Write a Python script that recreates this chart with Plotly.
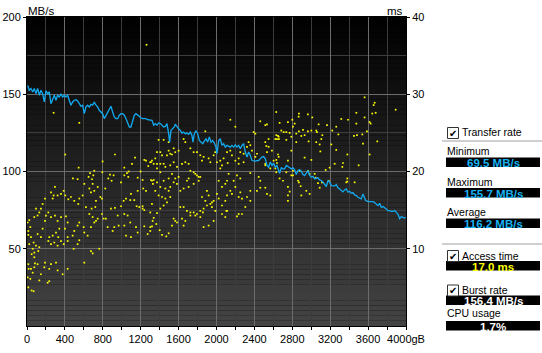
import plotly.graph_objects as go

# ---------------- data ----------------
tr_gb = [7,24,42,60,77,95,112,130,147,165,183,200,218,235,253,271,288,306,323,341,359,376,394,411,429,446,464,482,499,517,534,552,570,587,605,622,640,658,675,693,710,728,746,763,781,798,816,833,851,869,886,904,921,939,957,974,992,1009,1027,1045,1062,1080,1097,1115,1132,1150,1168,1185,1203,1220,1238,1256,1273,1291,1308,
         1319,1337,1354,1372,1389,1407,1425,1442,1460,1477,1495,1505,1520,1537,1555,1565,1583,1600,1618,1636,1653,1671,1688,1706,1724,1741,1752,1766,1783,1801,1819,1836,1854,1871,1889,1907,1924,1942,1959,1977,1994,2005,2023,2040,2058,2075,2093,2111,2128,2146,2163,2181,2199,2216,2234,2251,2269,2286,2304,2322,2339,2357,2374,2392,2410,2427,2445,2462,2480,2498,2515,2533,2550,2568,2586,2603,2621,2638,
         2649,2666,2684,2702,2719,2737,2754,2772,2790,2807,2825,2842,2860,2877,2895,2913,2930,2948,2965,2983,3001,3018,3036,3053,3071,3089,3106,3124,3141,3159,3177,3194,3212,3229,3247,3264,3282,3300,3317,3335,3352,3370,3388,3405,3423,3440,3458,3476,3493,3511,3528,3546,3564,3574,3599,3616,3634,3651,3669,3687,3704,3722,3739,3757,3775,3792,3810,3827,3845,3863,3880,3898,3915,3933,3951,3968,3986,3996]
tr_mbs = [155.7,152.6,153.7,151.5,153.7,150.4,153.7,149.4,152.6,150.4,145.0,152.2,150.4,151.5,143.9,147.2,149.4,146.1,149.4,148.3,150.0,148.3,149.4,148.3,149.4,146.1,142.9,145.0,146.1,146.5,145.7,143.9,142.2,142.9,137.4,141.8,142.9,141.8,143.5,142.9,145.0,142.9,141.8,139.6,138.5,137.4,134.2,136.4,138.5,140.7,142.2,138.5,135.3,134.2,134.2,136.4,137.4,137.4,136.4,134.2,132.0,128.8,128.8,132.0,136.4,137.4,136.4,135.3,134.8,134.2,134.2,134.2,133.5,133.5,133.1,
          133.1,129.9,131.0,129.9,131.4,131.0,129.9,128.8,129.2,131.0,124.5,119.0,126.6,127.7,128.8,130.6,128.8,127.7,126.6,124.9,125.5,124.5,124.9,124.0,125.5,123.4,119.0,124.5,126.2,124.5,120.1,119.0,118.0,119.7,121.2,119.0,122.3,119.0,120.1,118.4,115.8,111.5,120.1,121.2,116.9,118.0,115.8,116.9,116.2,115.8,116.9,115.8,117.3,115.8,116.9,114.7,116.9,118.0,112.6,109.3,112.6,110.4,107.1,106.7,106.7,107.1,107.1,108.2,109.3,109.7,108.2,103.9,102.8,106.1,103.9,105.4,102.8,103.9,
          101.7,98.9,102.4,101.7,101.7,103.9,103.2,102.4,101.7,102.4,101.1,98.1,100.6,101.1,100.2,98.1,97.4,98.9,100.6,97.4,96.3,96.8,95.2,95.7,95.9,94.6,94.2,93.1,92.0,90.3,94.2,93.1,90.9,90.9,90.7,91.6,89.4,88.7,87.7,86.8,88.1,88.7,86.6,87.2,85.9,86.4,84.8,84.4,83.3,82.9,82.3,85.5,83.3,81.2,80.5,80.5,80.5,80.5,79.9,79.0,77.9,79.4,76.8,77.3,76.8,75.8,74.7,74.7,74.2,74.2,74.7,73.6,72.5,69.5,70.8,70.3,69.9,70.3]

at_gb = [281,552,404,928,798,545,710,665,700,1027,1140,1108,1238,1256,1308,1280,1199,1073,1055,876,914,795,650,686,485,534,693,605,658,710,746,826,858,893,992,1027,1069,1168,1220,1308,1329,1227,1256,1168,1097,1045,1020,1090,1132,1220,1238,1157,992,928,886,833,791,774,728,675,682,721,658,693,728,622,587,552,541,499,464,436,404,387,359,323,281,271,253,295,190,165,147,95,130,112,77,24,7,35,14,14,42,24,70,95,60,77,49,119,130,147,112,165,190,200,225,253,295,323,359,411,429,401,341,306,271,235,225,253,288,323,359,387,330,429,429,482,499,552,534,598,605,640,675,710,746,791,809,851,904,921,967,957,1027,1062,1090,1027,1045,1097,1150,1168,1238,1301,1326,1273,1185,1220,534,552,492,675,693,763,605,429,376,323,306,253,235,190,183,147,130,112,84,77,42,17,7,35,60,14,49,70,218,235,14,77,
         2146,2199,1882,1653,1671,1389,1442,1495,1724,1600,1548,1565,1512,1530,1477,1495,1794,1829,1864,1917,1970,1987,2005,2040,2075,2111,2146,2163,2199,2234,2251,2286,2322,2339,2357,2374,2410,2427,2286,2234,2118,2058,2040,1935,1847,1759,1407,1372,1301,1319,1354,1425,1372,1337,1407,1460,1512,1548,1583,1636,1671,1706,1724,1759,1776,1829,1812,1759,1706,1653,1618,1583,1548,1512,1495,1460,1407,1372,1337,1319,1354,1389,1425,1460,1512,1477,1442,1407,1372,1319,1301,1337,1365,1319,1301,1400,1425,1470,1495,1548,1565,1530,1583,1636,1671,1653,1724,1759,1794,1829,1857,1864,1899,1935,1952,1882,1847,1899,1917,1952,1970,2005,2023,2058,2093,2111,2146,2163,2199,2251,2234,2269,2322,2304,2357,2357,2427,2462,2515,2533,2568,2445,2357,2462,2568,2621,2638,2603,2656,2515,2533,2550,2585,2621,2656,2638,2515,2526,2550,2533,2515,2462,2392,2410,2515,2104,2093,2058,1987,1970,1917,1864,1829,1776,1724,1688,1653,1618,2111,2216,2234,2269,2181,2111,2093,2058,2216,2251,2128,2023,1812,1794,1688,1706,1600,1565,1530,1495,1442,1407,1372,1442,
         3563,3669,3658,3891,3476,3644,3680,3563,3616,3627,3476,3317,3388,3264,3166,3078,3011,2965,2870,2867,2800,2754,2666,2631,2649,2684,2737,2772,2807,2825,2842,2870,2913,2965,3001,3053,3060,3117,3106,3053,3089,2972,2930,2895,2842,2790,2737,2709,2659,2631,3222,3286,3451,3483,3539,3588,3697,3546,3212,3264,3096,2790,2649,2631,2754,2930,3001,3381,3616,3335,3328,3247,3194,3152,3500,3381,3381,3458,3184,3113,3089,3071,3036,3046,2965,2983,2877,2807,2790,2737,2666,2702,2754,2772,2754,2754,2807,2860,2870,2888,2895,2948,2983,2631,3370,
         1262]
at_ms = [27.6,26.3,22.2,22.2,21.3,20.5,20.1,19.8,19.5,20.5,21.8,21.0,21.5,21.4,21.2,20.7,20.0,20.0,19.8,19.6,19.5,19.9,19.3,19.0,19.1,19.0,18.4,18.4,17.8,17.5,18.0,17.8,19.1,18.8,18.6,19.5,19.3,19.2,18.9,18.9,18.4,17.8,17.5,17.5,17.1,16.5,16.2,16.3,16.3,15.5,15.0,15.5,15.5,15.3,15.2,13.9,16.5,16.7,16.2,17.3,15.2,15.4,14.5,14.1,13.6,15.4,16.9,16.5,15.8,16.2,16.7,16.4,16.9,17.5,17.1,16.9,16.9,16.5,17.3,18.0,16.5,15.8,15.2,15.2,14.7,14.3,14.1,13.7,13.4,12.8,12.3,11.8,11.5,10.6,10.8,10.4,10.0,9.5,9.3,9.7,10.2,11.5,11.9,12.6,13.6,14.3,14.7,14.1,14.3,13.6,14.1,14.2,13.4,12.6,12.6,12.1,11.7,11.5,11.0,10.6,10.8,10.4,11.0,10.6,11.5,11.5,11.0,11.7,12.3,13.4,13.0,12.8,12.1,11.7,12.8,13.4,13.9,14.5,13.9,12.8,12.3,12.8,13.0,14.3,14.5,14.3,13.4,13.0,11.7,11.5,12.8,12.1,12.9,12.8,13.6,11.9,15.4,15.2,10.6,11.1,10.0,9.7,9.4,10.0,8.2,7.4,6.7,7.2,8.2,8.0,7.4,8.2,7.6,6.7,5.9,8.0,8.1,7.6,7.4,7.4,6.3,6.1,6.9,5.0,4.6,4.5,5.6,5.8,8.0,8.9,
         26.7,25.8,25.2,24.2,23.8,24.1,24.1,23.8,23.0,22.7,23.0,22.5,22.3,22.2,22.1,22.7,22.5,22.1,21.9,21.7,22.1,22.5,21.2,21.4,21.7,22.5,22.7,22.1,21.4,21.7,22.5,22.3,23.2,23.8,23.4,22.7,21.9,22.3,21.2,21.0,21.1,20.8,20.4,21.2,21.4,22.5,22.5,22.5,21.2,21.4,21.7,22.1,20.4,21.0,21.0,20.6,20.8,21.2,20.6,21.0,21.2,21.0,20.1,19.9,19.7,19.3,18.8,18.4,18.0,17.8,17.5,18.4,18.6,18.0,17.5,17.8,18.0,18.6,18.9,18.8,17.5,16.9,16.7,16.5,16.7,16.0,15.6,15.2,14.6,15.8,14.7,14.0,13.2,12.9,12.3,12.4,11.8,11.6,12.0,13.9,13.6,13.0,13.4,13.9,13.6,13.0,14.3,14.7,14.5,14.9,14.7,15.2,15.6,15.8,15.4,16.2,16.7,17.5,16.9,16.0,16.2,17.1,16.5,15.6,16.2,16.9,17.5,17.1,18.0,17.3,16.7,16.5,16.7,15.4,16.2,17.5,17.5,17.9,17.9,17.1,16.9,19.3,19.8,18.8,20.4,20.4,21.1,21.4,21.9,21.0,22.5,23.2,22.7,24.2,24.5,24.2,23.8,23.3,24.2,26.1,26.0,26.5,25.1,24.9,20.8,14.9,14.1,14.5,14.9,13.6,13.0,12.8,14.1,14.3,14.7,14.9,15.4,15.4,14.9,14.2,14.5,14.5,18.8,18.8,18.4,18.0,19.5,19.1,19.7,18.8,19.3,19.5,18.8,19.1,19.3,19.1,19.7,19.1,18.8,19.9,21.0,21.0,
         29.6,28.9,28.6,28.0,27.6,27.5,27.6,27.0,26.4,26.2,26.2,26.8,26.7,25.8,26.0,26.1,27.0,27.4,27.5,27.1,26.7,26.4,26.3,27.7,24.6,25.3,25.1,25.0,25.8,26.2,24.9,25.2,25.4,25.2,25.3,25.3,25.1,24.7,24.2,23.8,23.5,23.9,24.7,24.6,23.8,24.5,24.1,25.1,24.2,24.7,25.3,24.8,24.6,24.7,24.8,25.2,23.9,23.6,23.5,22.8,22.6,22.7,22.2,21.5,21.4,21.8,21.5,22.2,22.2,21.1,20.6,21.0,20.5,20.2,20.8,19.1,18.7,18.6,18.8,18.6,17.9,18.5,19.7,19.2,20.1,19.7,20.1,20.1,19.5,19.9,19.1,18.8,18.0,17.4,16.9,16.2,19.5,18.8,18.6,18.1,16.9,17.5,17.1,19.9,18.6,
         36.4]

x_ticks = [0, 400, 800, 1200, 1600, 2000, 2400, 2800, 3200, 3600, 4000]
x_labels = ["0", "400", "800", "1200", "1600", "2000", "2400", "2800", "3200", "3600", "4000gB"]
mb_ticks = [50, 100, 150, 200]
ms_ticks = [10, 20, 30, 40]

panel_labels = ["Minimum", "Maximum", "Average", "CPU usage"]
check_labels = ["Transfer rate", "Access time", "Burst rate"]
panel_values = ["69.5 MB/s", "155.7 MB/s", "116.2 MB/s", "17.0 ms", "156.4 MB/s", "1.7%"]
value_colors = ["#18b2f2", "#18b2f2", "#18b2f2", "#ffff00", "#ffffff", "#ffffff"]

# ---------------- layout geometry ----------------
W, H = 542, 353
L, R, T, B = 27, 406, 17, 326

def px(x):
    return (x - L) / (R - L)

def py(y):
    return (B - y) / (B - T)

FONT = "Liberation Sans"

fig = go.Figure()
fig.add_trace(go.Scatter(x=at_gb, y=at_ms, yaxis="y", mode="markers",
                         marker=dict(symbol="square", size=1.7, color="#ffff00", line=dict(width=0)),
                         hoverinfo="skip", showlegend=False))
fig.add_trace(go.Scatter(x=tr_gb, y=tr_mbs, yaxis="y2", mode="lines",
                         line=dict(color="#12aaf0", width=1.3),
                         hoverinfo="skip", showlegend=False))

shapes = []
# background gradient
N = 60
for i in range(N):
    f = (i + 0.5) / N  # 0 at top
    c = int(round(0x44 * f))
    shapes.append(dict(type="rect", xref="x domain", yref="y domain", x0=0, x1=1,
                       y0=1 - (i + 1) / N, y1=1 - i / N, layer="below",
                       fillcolor=f"rgb({c},{c},{c})", line=dict(width=0)))

# right panel separators
for ys in (141, 244):
    shapes.append(dict(type="line", xref="paper", yref="paper", x0=px(442), x1=px(542),
                       y0=py(ys), y1=py(ys), line=dict(color="#a0a0a0", width=1)))

# value boxes
box_tops = [157.5, 188, 218.5, 261, 295.5, 321]
for yt in box_tops:
    shapes.append(dict(type="rect", xref="paper", yref="paper", x0=px(446), x1=px(540),
                       y0=py(yt + 9.5), y1=py(yt), fillcolor="#000000", line=dict(width=0)))

# checkboxes
check_tops = [127.5, 250.5, 285]
for yt in check_tops:
    shapes.append(dict(type="rect", xref="paper", yref="paper", x0=px(447.5), x1=px(458.5),
                       y0=py(yt + 11), y1=py(yt), fillcolor="#ffffff",
                       line=dict(color="#333333", width=1)))

annotations = []
annotations.append(dict(text="MB/s", xref="paper", yref="paper", x=px(26), y=py(10.5),
                        xanchor="left", yanchor="middle", showarrow=False,
                        font=dict(family=FONT, size=11.5, color="#000")))
annotations.append(dict(text="ms", xref="paper", yref="paper", x=px(405), y=py(10.5),
                        xanchor="right", yanchor="middle", showarrow=False,
                        font=dict(family=FONT, size=11.5, color="#000")))

label_y = [150.5, 181.5, 212, 313]
for t, yy in zip(panel_labels, label_y):
    annotations.append(dict(text=t, xref="paper", yref="paper", x=px(446), y=py(yy),
                            xanchor="left", yanchor="middle", showarrow=False, borderpad=0,
                            font=dict(family=FONT, size=10.5, color="#000")))
check_y = [132, 255.5, 290]
for t, yy, yt in zip(check_labels, check_y, check_tops):
    annotations.append(dict(text=t, xref="paper", yref="paper", x=px(461.5), y=py(yy),
                            xanchor="left", yanchor="middle", showarrow=False, borderpad=0,
                            font=dict(family=FONT, size=10.5, color="#000")))
    annotations.append(dict(text="✔", xref="paper", yref="paper", x=px(453), y=py(yt + 5.5),
                            xanchor="center", yanchor="middle", showarrow=False, borderpad=0,
                            font=dict(family="DejaVu Sans", size=10, color="#000")))
for t, c, yt in zip(panel_values, value_colors, box_tops):
    annotations.append(dict(text=f"<b>{t}</b>", xref="paper", yref="paper", x=px(493), y=py(yt + 5.5),
                            xanchor="center", yanchor="middle", showarrow=False, borderpad=0,
                            font=dict(family=FONT, size=11.5, color=c)))

fig.update_layout(
    width=W, height=H,
    margin=dict(l=L, r=W - R, t=T, b=H - B, pad=0, autoexpand=False),
    paper_bgcolor="#ffffff", plot_bgcolor="#000000",
    font=dict(family=FONT, size=11, color="#000"),
    showlegend=False,
    shapes=shapes, annotations=annotations,
    xaxis=dict(range=[0, 4000], tickmode="array", tickvals=x_ticks, ticktext=x_labels,
               ticks="outside", ticklen=3, tickcolor="#000", tickfont=dict(size=11),
               showgrid=True, gridcolor="#6c6c6c", gridwidth=1, automargin=False,
               minor=dict(tickmode="linear", tick0=0, dtick=200, ticks="outside", ticklen=3,
                          tickcolor="#000", showgrid=True, gridcolor="#3c3c3c", gridwidth=1),
               showline=True, linecolor="#000", linewidth=1, mirror=True, zeroline=False,
               fixedrange=True),
    yaxis=dict(range=[0, 40], side="right", tickmode="array", tickvals=ms_ticks,
               ticks="outside", ticklen=3, tickcolor="#000", tickfont=dict(size=11),
               showgrid=False, showline=True, linecolor="#000", linewidth=1, automargin=False,
               zeroline=False, fixedrange=True),
    yaxis2=dict(range=[0, 200], side="left", overlaying="y", tickmode="array", tickvals=mb_ticks,
                ticks="outside", ticklen=3, tickcolor="#000", tickfont=dict(size=11),
                showgrid=True, gridcolor="#6c6c6c", gridwidth=1, automargin=False,
                minor=dict(tickmode="linear", tick0=0, dtick=25, showgrid=True,
                           gridcolor="#3c3c3c", gridwidth=1, ticks=""),
                showline=True, linecolor="#000", linewidth=1, zeroline=False, fixedrange=True),
)

fig.write_html("out.html", config={"displayModeBar": False})
